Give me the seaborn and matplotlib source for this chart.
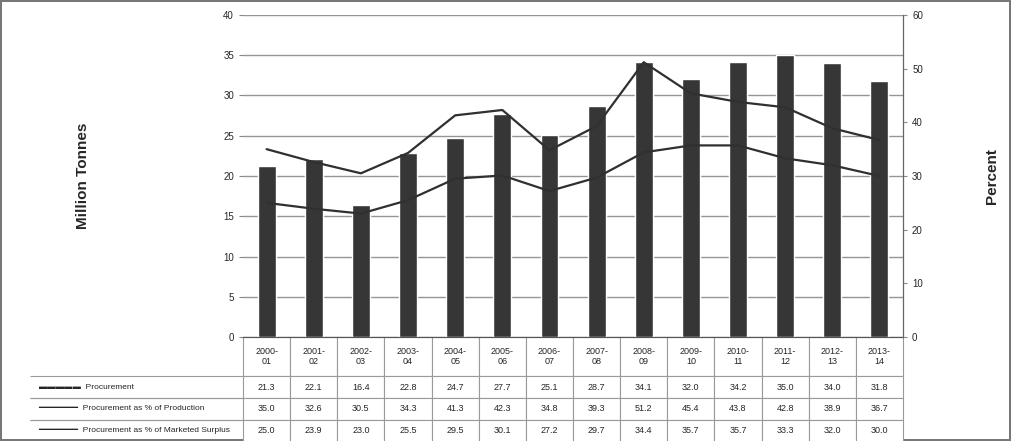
import numpy as np
import pandas as pd
import matplotlib
matplotlib.use('Agg')
import matplotlib.pyplot as plt
import seaborn as sns

# data
years = ['2000-\n01', '2001-\n02', '2002-\n03', '2003-\n04', '2004-\n05', '2005-\n06', '2006-\n07',
         '2007-\n08', '2008-\n09', '2009-\n10', '2010-\n11', '2011-\n12', '2012-\n13', '2013-\n14']
procurement = [21.3, 22.1, 16.4, 22.8, 24.7, 27.7, 25.1, 28.7, 34.1, 32.0, 34.2, 35.0, 34.0, 31.8]
pct_upper = [35.0, 32.6, 30.5, 34.3, 41.3, 42.3, 34.8, 39.3, 51.2, 45.4, 43.8, 42.8, 38.9, 36.7]
pct_lower = [25.0, 23.9, 23.0, 25.5, 29.5, 30.1, 27.2, 29.7, 34.4, 35.7, 35.7, 33.3, 32.0, 30.0]
left_ticks = [0, 5, 10, 15, 20, 25, 30, 35, 40]
right_ticks = [0, 10, 20, 30, 40, 50, 60]
row_labels = ['Procurement', 'Procurement as % of Production', 'Procurement as % of Marketed Surplus']

sns.set_style('white')
plt.rcParams['font.family'] = ['Liberation Sans', 'DejaVu Sans']

df = pd.DataFrame({'year': years, 'procurement': procurement,
                   'upper': pct_upper, 'lower': pct_lower, 'idx': np.arange(len(years))})

fig = plt.figure(figsize=(10.11, 4.41), dpi=100)
fig.patch.set_edgecolor('#777777')
fig.patch.set_linewidth(1.5)
ax = fig.add_axes([0.2404, 0.2358, 0.6528, 0.7302])

# bars on left axis
sns.barplot(data=df, x='idx', y='procurement', color='#363636', saturation=1,
            width=0.38, ax=ax, native_scale=True)
ax.set_xlim(-0.5, len(years) - 0.5)
ax.set_ylim(0, 40)
ax.set_yticks(left_ticks)
ax.grid(axis='y', color='#959595', lw=1.0)
ax.set_axisbelow(True)
ax.tick_params(axis='x', bottom=False, labelbottom=False)
ax.tick_params(axis='y', left=True, length=3, labelsize=7, color='#888888')
ax.set_xlabel('')
ax.set_ylabel('Million Tonnes', fontsize=11, fontweight='bold')
ax.yaxis.set_label_coords(-0.232, 0.5)
for s in ['top', 'left']:
    ax.spines[s].set_visible(False)
ax.spines['bottom'].set_color('#555555')

# lines on right axis
ax2 = ax.twinx()
sns.lineplot(data=df, x='idx', y='upper', color='#303030', lw=1.6, ax=ax2)
sns.lineplot(data=df, x='idx', y='lower', color='#303030', lw=1.6, ax=ax2)
ax2.set_ylim(0, 60)
ax2.set_yticks(right_ticks)
ax2.tick_params(axis='y', right=True, length=3, labelsize=7, color='#888888')
ax2.set_ylabel('Percent', fontsize=11, fontweight='bold', rotation=90)
ax2.yaxis.set_label_coords(1.124, 0.5)
for s in ['top', 'left']:
    ax2.spines[s].set_visible(False)
ax2.spines['right'].set_color('#666666')
ax2.spines['bottom'].set_visible(False)

# data table under the chart; first column holds the legend keys + series names
keys = ['\u25ac' * 5 + '  ', '\u2501' * 8 + '  ', '\u2501' * 8 + '  ']
series_vals = [procurement, pct_upper, pct_lower]
cell_text = [[k + name] + [f'{v:.1f}' for v in vals]
             for k, name, vals in zip(keys, row_labels, series_vals)]
label_w = 213 / 660
tab = ax.table(cellText=cell_text, colLabels=[''] + years, cellLoc='center',
               bbox=[-label_w, -0.326, 1 + label_w, 0.326])
tab.auto_set_font_size(False)
tab.set_fontsize(6.5)
for (r, c), cell in tab.get_celld().items():
    cell.set_edgecolor('#9a9a9a')
    cell.set_linewidth(0.8)
    cell.set_height(39 if r == 0 else 22)
    cell.set_width(213 if c == 0 else 660 / len(years))
    if c == 0:
        cell.PAD = 0.04
        cell.get_text().set_ha('left')
        cell.get_text().set_fontsize(6)
        cell._loc = 'left'
        if r == 0:
            cell.visible_edges = ''
        else:
            cell.visible_edges = 'TB'

fig.savefig('out.png', dpi=100)
